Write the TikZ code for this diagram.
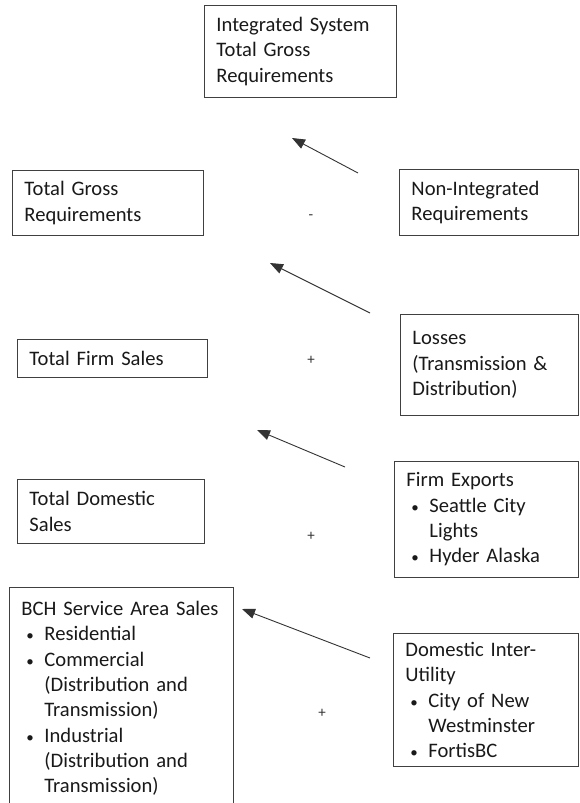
\documentclass[tikz,border=0pt]{standalone}
\usepackage{fontspec}
\setmainfont{Carlito}[WordSpace=0.8]
\usetikzlibrary{arrows.meta}
\newcommand{\bitem}{\hspace*{5pt}\makebox[18pt][l]{\fontsize{15}{15}\selectfont\textbullet}}
\newcommand{\bcont}{\hspace*{23pt}}
\tikzset{
  box/.style={draw=black!75, line width=0.9pt, anchor=north west, align=left,
    inner xsep=12pt, inner ysep=0pt, font=\fontsize{20.6}{25.3}\selectfont, text=black!90},
  sign/.style={font=\fontsize{15}{16}\selectfont, text=black!80},
  link/.style={draw=black!80, line width=0.9pt, -{Triangle[length=13pt,width=10pt]}}
}
\begin{document}
\begin{tikzpicture}[x=1pt, y=-1pt]
\useasboundingbox (0,0) rectangle (579,803);

\node[box, text width=168pt, minimum height=92pt] (igtgr) at (204,5) {Integrated System\\Total Gross\\Requirements};
\node[box, text width=167pt, minimum height=65pt] (tgr) at (12,170) {Total Gross\\Requirements};
\node[box, text width=155pt, minimum height=66pt] (nir) at (399,169) {Non-Integrated\\Requirements};
\node[box, text width=166pt, minimum height=38pt] (tfs) at (17,339) {Total Firm Sales};
\node[box, text width=154pt, minimum height=101pt] (loss) at (400,314) {Losses\\(Transmission \&\\Distribution)};
\node[box, text width=163pt, minimum height=64pt] (tds) at (17,479) {Total Domestic\\Sales};
\node[box, text width=160pt, minimum height=116pt] (fexp) at (394,461) {Firm Exports\\\bitem Seattle City\\\bcont Lights\\\bitem Hyder Alaska};
\node[box, text width=200pt, minimum height=222pt] (bch) at (9,587) {BCH Service Area Sales\\\bitem Residential\\\bitem Commercial\\\bcont (Distribution and\\\bcont Transmission)\\\bitem Industrial\\\bcont (Distribution and\\\bcont Transmission)};
\node[box, text width=161pt, minimum height=133pt] (diu) at (393,633) {Domestic Inter-\\Utility\\\bitem City of New\\\bcont Westminster\\\bitem FortisBC};

\foreach \n/\x/\y/\s in {s1/311/217/-, s2/311/360/+, s3/311/536/+, s4/322/713/+}
{
    \node[sign] (\n) at (\x,\y) {\s};
}

\foreach \i/\tx/\ty/\hx/\hy in {1/358/173/292/138, 2/370/313/270/263, 3/345/467/257/430, 4/370/658/242/609}
{
    \coordinate (t\i) at (\tx,\ty);
    \coordinate (h\i) at (\hx,\hy);
    \draw[link] (t\i) -- (h\i);
}
\end{tikzpicture}
\end{document}
